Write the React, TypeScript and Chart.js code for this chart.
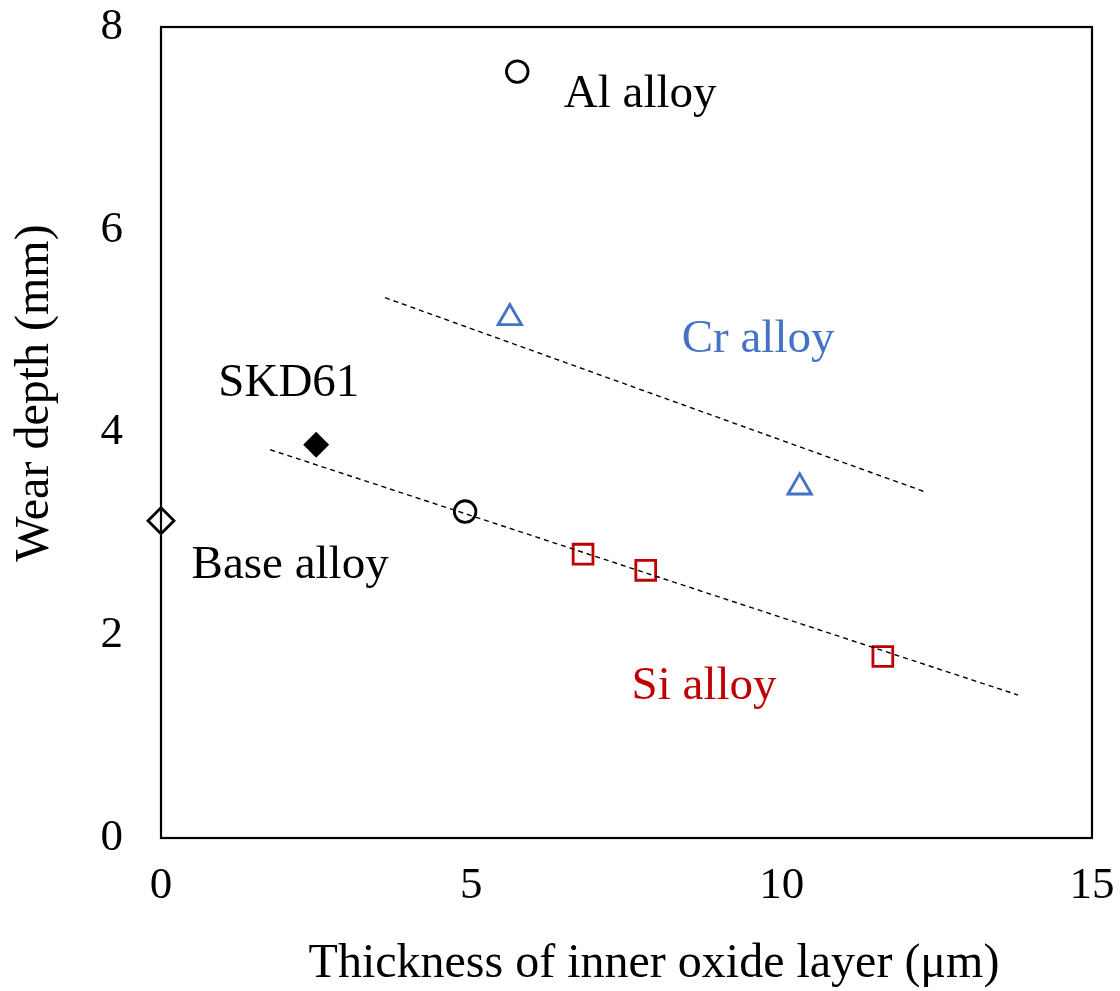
import React, { useEffect, useRef } from "react";
import { Chart, registerables } from "chart.js";

Chart.register(...registerables);

const FONT = "'Liberation Serif', 'Times New Roman', serif";

// Data (x: thickness of inner oxide layer µm, y: wear depth mm)
const baseAlloy = [{ x: 0, y: 3.13 }];
const skd61 = [{ x: 2.5, y: 3.88 }];
const alAlloy = [
  { x: 5.74, y: 7.56 },
  { x: 4.9, y: 3.22 },
];
const crAlloy = [
  { x: 5.62, y: 5.13 },
  { x: 10.29, y: 3.46 },
];
const siAlloy = [
  { x: 6.8, y: 2.8 },
  { x: 7.81, y: 2.64 },
  { x: 11.63, y: 1.79 },
];
const trendLower = [
  { x: 1.76, y: 3.83 },
  { x: 13.81, y: 1.41 },
];
const trendUpper = [
  { x: 3.61, y: 5.33 },
  { x: 12.33, y: 3.41 },
];

const xTicks = [0, 5, 10, 15];
const yTicks = [0, 2, 4, 6, 8];

const xTitle = "Thickness of inner oxide layer (μm)";
const yTitle = "Wear depth (mm)";

const BLUE = "#4472C4";
const RED = "#C00000";

// Text labels anchored in data coordinates
const labelTexts = ["Al alloy", "Cr alloy", "SKD61", "Base alloy", "Si alloy"];
const labelColors = ["#000000", BLUE, "#000000", "#000000", RED];
const labelX = [7.72, 9.62, 2.06, 2.08, 8.75];
const labelY = [7.33, 4.92, 4.48, 2.69, 1.49];

const annotationPlugin = {
  id: "annot",
  afterDraw(chart: any) {
    const ctx = chart.ctx;
    const { left, right, top, bottom } = chart.chartArea;
    const xs = chart.scales.x;
    const ys = chart.scales.y;
    ctx.save();
    // frame
    ctx.strokeStyle = "#000";
    ctx.lineWidth = 2.2;
    ctx.strokeRect(left, top, right - left, bottom - top);
    // labels
    ctx.font = `47px ${FONT}`;
    ctx.textAlign = "center";
    ctx.textBaseline = "middle";
    labelTexts.forEach((t, i) => {
      ctx.fillStyle = labelColors[i];
      ctx.fillText(t, xs.getPixelForValue(labelX[i]), ys.getPixelForValue(labelY[i]));
    });
    // axis titles
    ctx.fillStyle = "#000";
    ctx.font = `48px ${FONT}`;
    ctx.fillText(xTitle, 654, 964);
    ctx.translate(35, 393);
    ctx.rotate(-Math.PI / 2);
    ctx.fillText(yTitle, 0, 0);
    ctx.restore();
  },
};

export default function App() {
  const ref = useRef<HTMLCanvasElement>(null);
  useEffect(() => {
    document.body.style.margin = "0";
    const canvas = ref.current!;
    const pointDs = (label: string, data: any[], style: string, r: number, border: string, fill: string) => ({
      type: "scatter" as const,
      label,
      data,
      pointStyle: style,
      pointRadius: r,
      pointHoverRadius: r,
      borderColor: border,
      backgroundColor: fill,
      pointBorderWidth: 2.8,
      borderWidth: 2.8,
      showLine: false,
      clip: false as any,
    });
    const lineDs = (label: string, data: any[]) => ({
      type: "line" as const,
      label,
      data,
      borderColor: "#000",
      borderWidth: 1.4,
      borderDash: [5, 4],
      pointRadius: 0,
      fill: false,
      clip: false as any,
    });
    const chart = new Chart(canvas, {
      type: "scatter",
      data: {
        datasets: [
          lineDs("Trend lower", trendLower),
          lineDs("Trend upper", trendUpper),
          pointDs("Base alloy", baseAlloy, "rectRot", 13, "#000", "#fff"),
          pointDs("SKD61", skd61, "rectRot", 11, "#000", "#000"),
          pointDs("Al alloy", alAlloy, "circle", 10.8, "#000", "#fff"),
          pointDs("Cr alloy", crAlloy, "triangle", 13.5, BLUE, "#fff"),
          pointDs("Si alloy", siAlloy, "rect", 14, RED, "#fff"),
        ] as any,
      },
      options: {
        responsive: false,
        animation: false,
        devicePixelRatio: 1,
        layout: { padding: { top: 27, right: 28, left: 0, bottom: 0 } },
        plugins: { legend: { display: false }, tooltip: { enabled: false } },
        scales: {
          x: {
            type: "linear",
            min: 0,
            max: 15,
            afterBuildTicks: (s: any) => {
              s.ticks = xTicks.map((v) => ({ value: v }));
            },
            afterFit: (s: any) => {
              s.height = 153;
              s.paddingLeft = 0;
              s.paddingRight = 0;
            },
            grid: { display: false, drawTicks: false },
            border: { display: false },
            ticks: { font: { family: FONT, size: 45 }, color: "#000", padding: 21 },
          },
          y: {
            type: "linear",
            min: 0,
            max: 8,
            afterBuildTicks: (s: any) => {
              s.ticks = yTicks.map((v) => ({ value: v }));
            },
            afterFit: (s: any) => {
              s.width = 161;
              s.paddingTop = 0;
              s.paddingBottom = 0;
            },
            grid: { display: false, drawTicks: false },
            border: { display: false },
            ticks: { font: { family: FONT, size: 45 }, color: "#000", padding: 38 },
          },
        },
      },
      plugins: [annotationPlugin],
    });
    return () => chart.destroy();
  }, []);
  return (
    <div style={{ width: 1120, height: 991, background: "#fff" }}>
      <canvas ref={ref} width={1120} height={991} style={{ display: "block" }} />
    </div>
  );
}
